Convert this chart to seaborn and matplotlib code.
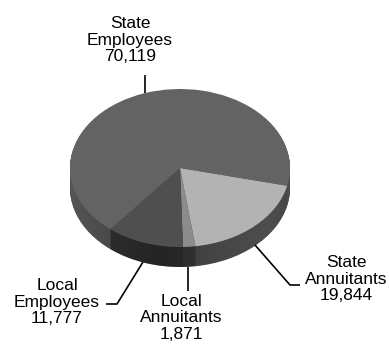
import numpy as np
import matplotlib
matplotlib.use("Agg")
import matplotlib.pyplot as plt
import seaborn as sns
from matplotlib.patches import Polygon

# Membership counts, listed clockwise from the right-hand edge of the pie
categories = ["State\nAnnuitants", "Local\nAnnuitants", "Local\nEmployees", "State\nEmployees"]
counts = [19844, 1871, 11777, 70119]
top_colors = ["#b3b3b3", "#8c8c8c", "#4f4f4f", "#636363"]
side_colors = ["#4e4e4e", "#3a3a3a", "#333333", "#555555"]

sns.set_theme(style="white")
plt.rcParams["font.family"] = ["Liberation Sans", "DejaVu Sans"]

W, H = 389, 353
fig = plt.figure(figsize=(W / 100, H / 100), dpi=100)
ax = fig.add_axes([0, 0, 1, 1])

# Pixel geometry of the tilted pie: centre, half-axes and rim thickness
CX, CY, RX, RY = 180, 168, 110, 79
DEPTH = 20


def to_data(px, py):
    return (px - CX) / RX, (CY - py) / RY


START = -13
depth = DEPTH / RY
n_layers = 30
for i in range(n_layers, 0, -1):
    off = depth * i / n_layers
    ax.pie(counts, colors=side_colors, startangle=START, counterclock=False,
           center=(0, -off), radius=1, wedgeprops=dict(linewidth=0))

# Shading along the rim: darker toward the front
t = np.linspace(np.pi, 2 * np.pi, 200)
upper = np.column_stack([np.cos(t), np.sin(t)])
lower = np.column_stack([np.cos(t[::-1]), np.sin(t[::-1]) - depth])
rim = Polygon(np.vstack([upper, lower]), closed=True, facecolor="none", edgecolor="none")
ax.add_patch(rim)
xs = np.linspace(-1, 1, 300)
alpha = np.interp(xs, [-1, -0.7, -0.2, 0.3, 0.8, 1], [0.0, 0.12, 0.3, 0.12, 0.0, 0.1])
grad = np.zeros((2, len(xs), 4))
grad[..., 3] = alpha
img = ax.imshow(grad, extent=(-1, 1, -1 - depth, 0), aspect="auto", zorder=1.5,
                interpolation="bilinear")
img.set_clip_path(rim)

ax.pie(counts, colors=top_colors, startangle=START, counterclock=False,
       center=(0, 0), wedgeprops=dict(linewidth=0, zorder=2))

ax.set_aspect("auto")
ax.set_xlim(-CX / RX, (W - CX) / RX)
ax.set_ylim((CY - H) / RY, CY / RY)
ax.axis("off")

# Labels and leader lines
label_pos = [(346, 279), (181, 318), (57, 302), (130, 40)]
leaders = [
    [(255, 245), (290, 285), (300, 285)],
    [(188, 267), (188, 291)],
    [(143, 262), (117, 304), (106, 304)],
    [(145, 75), (145, 93)],
]
for name, val, (px, py), pts in zip(categories, counts, label_pos, leaders):
    x, y = to_data(px, py)
    ax.text(x, y, f"{name}\n{val:,}", ha="center", va="center",
            fontsize=12.5, color="black", linespacing=1.15, zorder=5)
    d = np.array([to_data(*p) for p in pts])
    ax.plot(d[:, 0], d[:, 1], color="black", lw=1.2, zorder=5,
            solid_capstyle="butt")

fig.savefig("out.png", dpi=100)
